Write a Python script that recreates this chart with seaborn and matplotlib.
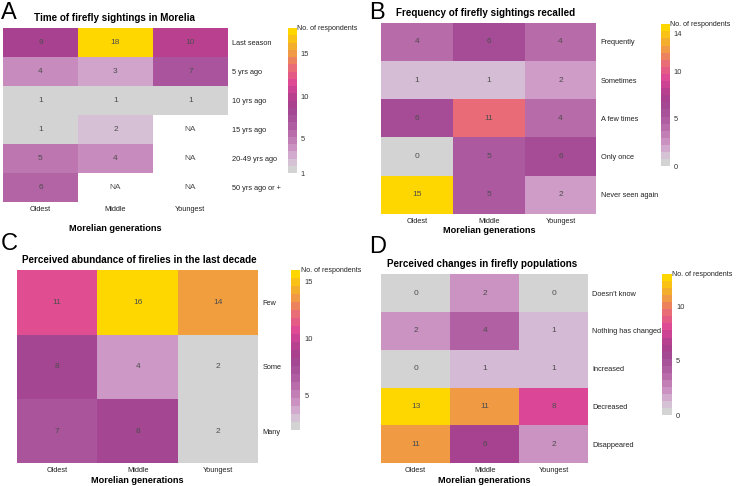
import matplotlib as mpl

mpl.use('Agg')
import numpy as np
import pandas as pd
import matplotlib.pyplot as plt
import seaborn as sns
from matplotlib.colors import LinearSegmentedColormap, Normalize
from matplotlib.cm import ScalarMappable

generations = ['Oldest', 'Middle', 'Youngest']
NA = np.nan

# A - time of sightings
time_rows = ['Last season', '5 yrs ago', '10 yrs ago', '15 yrs ago',
             '20-49 yrs ago', '50 yrs ago or +']
time_oldest = [9, 4, 1, 1, 5, 6]
time_middle = [18, 3, 1, 2, 4, NA]
time_youngest = [10, 7, 1, NA, NA, NA]

# B - frequency recalled
freq_rows = ['Frequently', 'Sometimes', 'A few times', 'Only once',
             'Never seen again']
freq_oldest = [4, 1, 6, 0, 15]
freq_middle = [6, 1, 11, 5, 5]
freq_youngest = [4, 2, 4, 6, 2]

# C - perceived abundance
abund_rows = ['Few', 'Some', 'Many']
abund_oldest = [11, 8, 7]
abund_middle = [16, 4, 8]
abund_youngest = [14, 2, 2]

# D - perceived changes
change_rows = ["Doesn't know", 'Nothing has changed', 'Increased',
               'Decreased', 'Disappeared']
change_oldest = [0, 2, 0, 13, 11]
change_middle = [2, 4, 1, 11, 6]
change_youngest = [0, 1, 1, 8, 2]

cmap = LinearSegmentedColormap.from_list('fire', [
    (0.0, '#d3d3d3'), (0.07, '#d6bcd6'), (0.15, '#cc94c3'),
    (0.27, '#b76aa8'), (0.35, '#a9559c'), (0.45, '#a3428f'),
    (0.53, '#b8408f'), (0.62, '#de4697'), (0.73, '#e96a7a'),
    (0.85, '#f09c42'), (1.0, '#ffd700')])

plt.rcParams['font.family'] = ['Liberation Sans', 'DejaVu Sans']
fig = plt.figure(figsize=(7.4, 4.86), dpi=100)


def panel(letter, title, rows, cols, ax_rect, cb_rect, vmin, vmax, ticks,
          title_x, letter_xy, xlab_pad):
    df = pd.DataFrame(dict(zip(generations, cols)), index=rows)
    ax = fig.add_axes(ax_rect)
    sns.heatmap(df, ax=ax, cmap=cmap, vmin=vmin, vmax=vmax, cbar=False,
                annot=True, fmt='.0f', linewidths=0,
                annot_kws={'color': '#4d4d4d', 'fontsize': 6})
    for i in range(df.shape[0]):
        for j in range(df.shape[1]):
            if np.isnan(df.iat[i, j]):
                ax.text(j + 0.5, i + 0.5, 'NA', ha='center', va='center',
                        color='#4d4d4d', fontsize=6)
    ax.yaxis.tick_right()
    ax.tick_params(length=0, labelsize=5.3, labelcolor='#222222', pad=3)
    ax.set_yticklabels(rows, rotation=0)
    ax.set_xticklabels(generations, rotation=0)
    ax.set_ylabel('')
    ax.set_xlabel('Morelian generations', fontsize=6.6, fontweight='bold',
                  labelpad=xlab_pad)
    ax.set_title(title, fontsize=7.1, fontweight='bold', loc='left',
                 x=title_x, pad=5)
    fig.text(letter_xy[0], letter_xy[1], letter, fontsize=17, va='top',
             ha='left')

    cax = fig.add_axes(cb_rect)
    sm = ScalarMappable(norm=Normalize(vmin, vmax), cmap=cmap.resampled(20))
    cb = fig.colorbar(sm, cax=cax, ticks=ticks)
    cb.outline.set_visible(False)
    cax.tick_params(length=0, labelsize=5.4, labelcolor='#333333', pad=3)
    cax.text(1.05, 1.0, 'No. of respondents', transform=cax.transAxes,
             fontsize=5.1, color='#222222', ha='left', va='center')


panel('A', 'Time of firefly sightings in Morelia', time_rows,
      [time_oldest, time_middle, time_youngest],
      [0.004, 0.584, 0.304, 0.358], [0.389, 0.644, 0.012, 0.298],
      1, 18, [1, 5, 10, 15], 0.14, (0.001, 0.995), 8)
panel('B', 'Frequency of firefly sightings recalled', freq_rows,
      [freq_oldest, freq_middle, freq_youngest],
      [0.515, 0.560, 0.291, 0.393], [0.893, 0.658, 0.012, 0.292],
      0, 15, [0, 5, 10, 14], 0.07, (0.499, 0.995), 1)
panel('C', 'Perceived abundance of firelies in the last decade', abund_rows,
      [abund_oldest, abund_middle, abund_youngest],
      [0.023, 0.047, 0.326, 0.397], [0.393, 0.115, 0.013, 0.329],
      2, 16, [5, 10, 15], 0.02, (0.001, 0.52), 1)
panel('D', 'Perceived changes in firefly populations', change_rows,
      [change_oldest, change_middle, change_youngest],
      [0.515, 0.047, 0.280, 0.389], [0.895, 0.146, 0.013, 0.290],
      0, 13, [0, 5, 10], 0.03, (0.499, 0.515), 1)

plt.savefig('out.png', dpi=100)
